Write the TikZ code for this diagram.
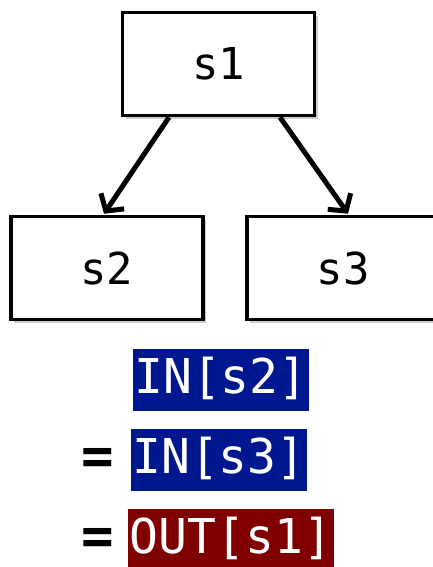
\documentclass[tikz,border=0pt]{standalone}
\usepackage{fontspec}
\setmonofont{DejaVu Sans Mono}
\usetikzlibrary{arrows.meta,shadows}
\definecolor{inblue}{RGB}{0,24,143}
\definecolor{outred}{RGB}{128,0,0}
\tikzset{
  blk/.style={draw=black, line width=3.5pt, fill=white, minimum width=192pt, minimum height=103pt, inner sep=0pt,
    font=\ttfamily\fontsize{44}{44}\selectfont,
    drop shadow={shadow xshift=3pt, shadow yshift=-3.5pt, fill=black!40}},
  arr/.style={line width=5pt, -{Straight Barb[length=12pt, width=28pt, line width=5pt]}},
  setbox/.style={inner sep=0pt, minimum height=62pt, text=white, font=\ttfamily\fontsize{48}{48}\selectfont,
    text height=35pt, text depth=8pt},
  eqs/.style={inner sep=0pt, font=\ttfamily\bfseries\fontsize{54}{54}\selectfont}
}
\begin{document}
\begin{tikzpicture}[x=1pt,y=-1pt]
\useasboundingbox (0,0) rectangle (432,567);
\node[blk] (s1) at (218.5,64) {s1};
\node[blk] (s2) at (107,268) {s2};
\node[blk] (s3) at (343,268) {s3};
\draw[arr] ([xshift=-49.5pt]s1.south) -- ([xshift=-3pt,yshift=1pt]s2.north);
\draw[arr] ([xshift=61.5pt]s1.south) -- ([xshift=5pt,yshift=1pt]s3.north);
\node[setbox, fill=inblue, minimum width=176pt] (a) at (221,380) {IN[s2]};
\node[setbox, fill=inblue, minimum width=176pt] (b) at (219,460) {IN[s3]};
\node[setbox, fill=outred, minimum width=206pt] (c) at (231,540) {OUT[s1]};
\node[eqs] (e1) at (98,461) {=};
\node[eqs] (e2) at (98,541) {=};
\end{tikzpicture}
\end{document}
